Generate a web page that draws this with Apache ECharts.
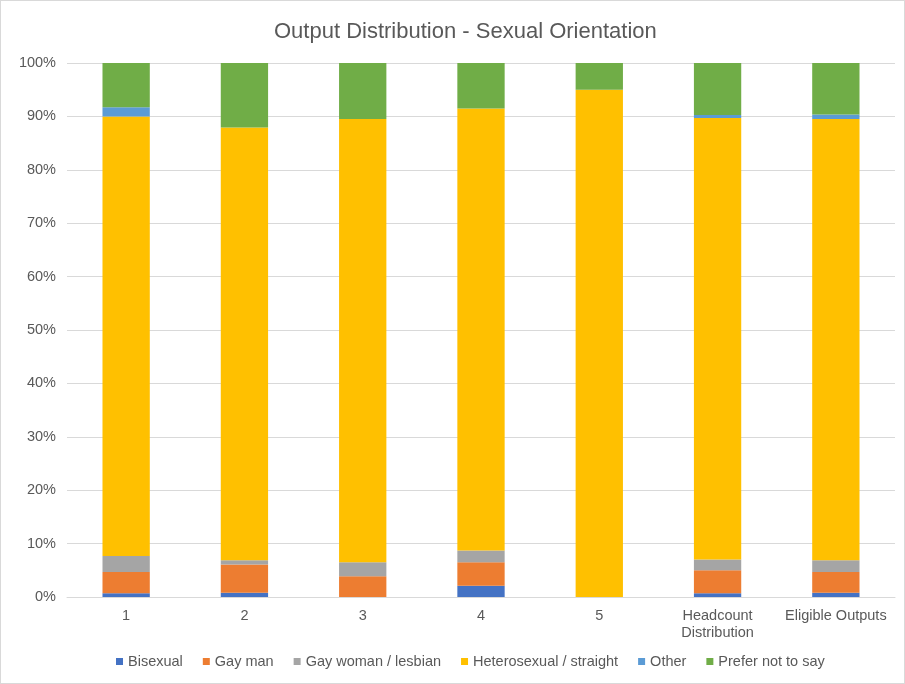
<!DOCTYPE html>
<html>
<head>
<meta charset="utf-8">
<script src="https://cdn.jsdelivr.net/npm/echarts@6/dist/echarts.min.js"></script>
<style>
html,body{margin:0;padding:0;background:#fff;}
#c{width:903px;height:682px;border:1px solid #d9d9d9;}
</style>
</head>
<body>
<div id="c"></div>
<script>
const categories = ["1", "2", "3", "4", "5", "Headcount\nDistribution", "Eligible Outputs"];
const seriesNames = ["Bisexual", "Gay man", "Gay woman / lesbian", "Heterosexual / straight", "Other", "Prefer not to say"];
const bisexual   = [0.7, 0.8, 0.0, 2.1, 0.0, 0.7, 0.8];
const gayMan     = [4.0, 5.3, 3.9, 4.4, 0.0, 4.3, 3.9];
const gayWoman   = [3.0, 0.8, 2.6, 2.2, 0.0, 2.0, 2.2];
const hetero     = [82.3, 81.0, 83.0, 82.8, 95.0, 82.7, 82.6];
const other      = [1.7, 0.0, 0.0, 0.0, 0.0, 0.55, 0.85];
const preferNot  = [8.3, 12.1, 10.5, 8.5, 5.0, 9.75, 9.65];
const yTicks = [0, 10, 20, 30, 40, 50, 60, 70, 80, 90, 100];

const colors = ["#4472C4", "#ED7D31", "#A5A5A5", "#FFC000", "#5B9BD5", "#70AD47"];
const allData = [bisexual, gayMan, gayWoman, hetero, other, preferNot];
const font = "Liberation Sans, Arial, sans-serif";

const chart = echarts.init(document.getElementById('c'));
chart.setOption({
  animation: false,
  color: colors,
  title: {
    text: "Output Distribution - Sexual Orientation",
    left: 268, top: 15,
    textStyle: {fontFamily: font, fontSize: 22, fontWeight: 'normal', color: '#595959'}
  },
  legend: {
    bottom: 9, left: 110,
    itemWidth: 7, itemHeight: 7, itemGap: 20,
    icon: 'rect',
    textStyle: {fontFamily: font, fontSize: 14.5, color: '#595959'},
    data: seriesNames
  },
  grid: {left: 66, right: 9, top: 62, bottom: 86, containLabel: false},
  xAxis: {
    type: 'category',
    data: categories,
    axisLine: {lineStyle: {color: '#d9d9d9'}},
    axisTick: {show: false},
    axisLabel: {fontFamily: font, fontSize: 14.5, color: '#595959', margin: 10, lineHeight: 17, interval: 0}
  },
  yAxis: {
    type: 'value', min: 0, max: 100, interval: 10,
    axisLine: {show: false}, axisTick: {show: false},
    splitLine: {lineStyle: {color: '#d9d9d9'}},
    axisLabel: {fontFamily: font, fontSize: 14.5, color: '#595959', formatter: '{value}%', margin: 11}
  },
  series: seriesNames.map((n, i) => ({
    name: n, type: 'bar', stack: 'total', barWidth: '40%',
    data: allData[i],
    itemStyle: {color: colors[i]}
  }))
});
</script>
</body>
</html>
